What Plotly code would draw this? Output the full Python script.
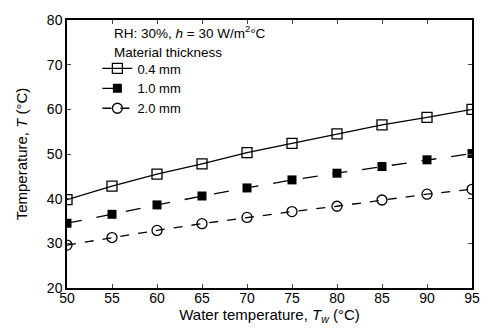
import plotly.graph_objects as go

water_temp = [50, 55, 60, 65, 70, 75, 80, 85, 90, 95]
t_04mm = [39.8, 42.8, 45.5, 47.8, 50.3, 52.4, 54.5, 56.5, 58.2, 60.0]
t_10mm = [34.5, 36.5, 38.6, 40.6, 42.4, 44.2, 45.7, 47.2, 48.7, 50.1]
t_20mm = [29.6, 31.3, 32.9, 34.4, 35.8, 37.1, 38.3, 39.7, 41.0, 42.1]
series_names = ["0.4 mm", "1.0 mm", "2.0 mm"]
x_ticks = [50, 55, 60, 65, 70, 75, 80, 85, 90, 95]
y_ticks = [20, 30, 40, 50, 60, 70, 80]

font = "Liberation Sans, Arial, sans-serif"
fig = go.Figure()
fig.add_trace(go.Scatter(x=water_temp, y=t_04mm, name=series_names[0], mode="lines+markers",
                         line=dict(color="black", width=1.3, dash="solid"),
                         marker=dict(symbol="square-open", size=10, color="black", line=dict(width=1.3))))
fig.add_trace(go.Scatter(x=water_temp, y=t_10mm, name=series_names[1], mode="lines+markers",
                         line=dict(color="black", width=1.3, dash="longdash"),
                         marker=dict(symbol="square", size=9, color="black")))
fig.add_trace(go.Scatter(x=water_temp, y=t_20mm, name=series_names[2], mode="lines+markers",
                         line=dict(color="black", width=1.3, dash="dash"),
                         marker=dict(symbol="circle-open", size=10, color="black", line=dict(width=1.3))))

fig.update_layout(
    width=492, height=332,
    margin=dict(l=67, r=13, t=14, b=44),
    paper_bgcolor="white", plot_bgcolor="white",
    font=dict(family=font, size=13, color="black"),
    legend=dict(x=0.075, y=0.875, xanchor="left", yanchor="top",
                bgcolor="rgba(0,0,0,0)", font=dict(size=13),
                tracegroupgap=0, itemwidth=30),
    annotations=[dict(x=0.11, y=0.995, xref="paper", yref="paper", xanchor="left", yanchor="top",
                      showarrow=False, text="RH: 30%, <i>h</i> = 30 W/m<sup>2</sup>°C",
                      font=dict(size=13.5)),
                 dict(x=0.11, y=0.915, xref="paper", yref="paper", xanchor="left", yanchor="top",
                      showarrow=False, text="Material thickness", font=dict(size=13.5))],
)
fig.update_xaxes(range=[50, 95], tickvals=x_ticks, ticks="inside", ticklen=4, mirror="ticks",
                 showline=True, linecolor="black", linewidth=1.5, showgrid=False, zeroline=False,
                 tickfont=dict(size=14), ticklabelstandoff=-4,
                 title=dict(text="Water temperature, <i>T</i><sub><i>w</i></sub> (°C)", font=dict(size=15), standoff=0))
fig.update_yaxes(range=[20, 80], tickvals=y_ticks, ticks="inside", ticklen=4, mirror="ticks",
                 showline=True, linecolor="black", linewidth=1.5, showgrid=False, zeroline=False,
                 tickfont=dict(size=14),
                 title=dict(text="Temperature, <i>T</i> (°C)", font=dict(size=15), standoff=16))
fig.write_html("out.html")
